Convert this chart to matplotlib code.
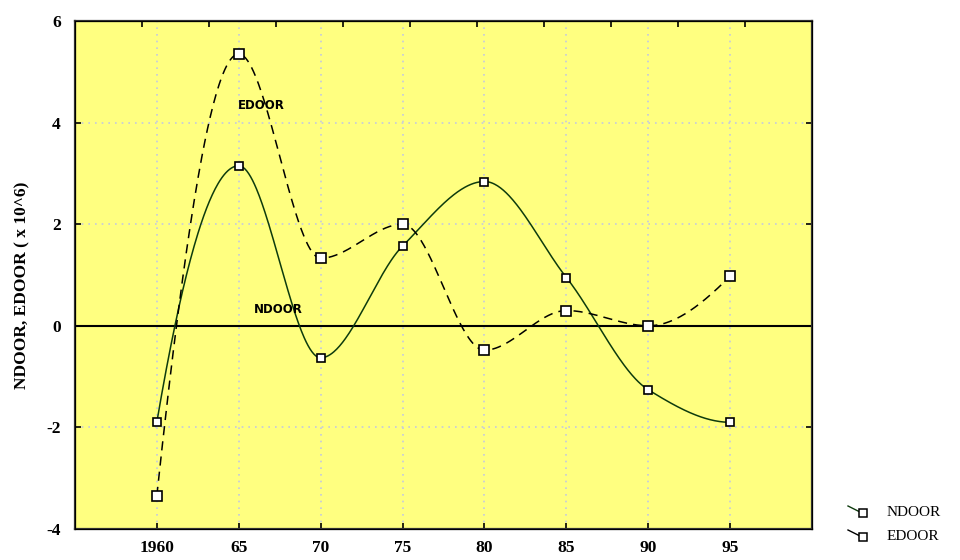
import numpy as np
import matplotlib
matplotlib.use("Agg")
import matplotlib.pyplot as plt

years = [1960, 1965, 1970, 1975, 1980, 1985, 1990, 1995]
year_labels = ["1960", "65", "70", "75", "80", "85", "90", "95"]
ndoor = [-1.90, 3.15, -0.63, 1.57, 2.84, 0.95, -1.26, -1.90]
edoor = [-3.35, 5.35, 1.33, 2.00, -0.48, 0.30, 0.00, 0.98]
y_ticks = [-4, -2, 0, 2, 4, 6]


def pchip(x, y, xs):
    # shape-preserving piecewise cubic (Fritsch-Carlson) through (x, y)
    x = np.asarray(x, float)
    y = np.asarray(y, float)
    h = np.diff(x)
    delta = np.diff(y) / h
    n = len(x)
    d = np.zeros(n)
    for k in range(1, n - 1):
        if delta[k - 1] * delta[k] > 0:
            w1 = 2 * h[k] + h[k - 1]
            w2 = h[k] + 2 * h[k - 1]
            d[k] = (w1 + w2) / (w1 / delta[k - 1] + w2 / delta[k])
    for k, (i0, i1) in ((0, (0, 1)), (n - 1, (n - 2, n - 3))):
        dk = ((2 * h[i0] + h[i1]) * delta[i0] - h[i0] * delta[i1]) / (h[i0] + h[i1])
        if np.sign(dk) != np.sign(delta[i0]):
            dk = 0.0
        elif np.sign(delta[i0]) != np.sign(delta[i1]) and abs(dk) > abs(3 * delta[i0]):
            dk = 3 * delta[i0]
        d[k] = dk
    idx = np.clip(np.searchsorted(x, xs) - 1, 0, n - 2)
    hi = h[idx]
    t = (xs - x[idx]) / hi
    h00 = 2 * t ** 3 - 3 * t ** 2 + 1
    h10 = t ** 3 - 2 * t ** 2 + t
    h01 = -2 * t ** 3 + 3 * t ** 2
    h11 = t ** 3 - t ** 2
    return h00 * y[idx] + h10 * hi * d[idx] + h01 * y[idx + 1] + h11 * hi * d[idx + 1]


fig = plt.figure(figsize=(9.6, 5.6), dpi=100)
ax = fig.add_axes([0.078, 0.0554, 0.768, 0.9071])
ax.set_facecolor("#ffff80")

xs = np.linspace(years[0], years[-1], 600)
ax.plot(xs, pchip(years, ndoor, xs), color="#0d3b0d", lw=1.1, zorder=3)
ax.plot(xs, pchip(years, edoor, xs), color="black", lw=1.1,
        dashes=(6, 4), zorder=3)
ax.plot(years, ndoor, ls="none", marker="s", ms=6, mfc="white", mec="black",
        mew=1.2, zorder=4)
ax.plot(years, edoor, ls="none", marker="s", ms=6.5, mfc="white", mec="black",
        mew=1.2, zorder=4)

ax.axhline(0, color="black", lw=1.5, zorder=2)

ax.set_xlim(1955, 2000)
ax.set_ylim(-4, 6)
ax.set_xticks(years)
ax.set_xticklabels(year_labels)
ax.set_yticks(y_ticks)
ax.set_yticklabels([str(t) for t in y_ticks])
ax.grid(True, color="#c4c8e0", ls=(0, (1, 3)), lw=1.2)
ax.tick_params(direction="in", length=4, width=1.2, right=True)
ax.tick_params(axis="x", pad=8)
ax.tick_params(axis="y", pad=10)
for lab in ax.get_xticklabels() + ax.get_yticklabels():
    lab.set_fontfamily("Liberation Serif")
    lab.set_fontweight("bold")
    lab.set_fontsize(12.5)
for sp in ax.spines.values():
    sp.set_color("#333333")
    sp.set_linewidth(1.6)

top = ax.twiny()
top.set_xlim(0, 11)
top.set_xticks(range(1, 11))
top.set_xticklabels([])
top.tick_params(direction="in", length=4, width=1.2)

ax.set_ylabel("NDOOR, EDOOR ( x 10^6)", family="Liberation Serif",
              fontweight="bold", fontsize=12.5)
ax.yaxis.set_label_coords(-0.06, 0.48)

ax.text(1964.95, 4.33, "EDOOR", fontsize=8.5, fontweight="bold", va="center")
ax.text(1965.9, 0.33, "NDOOR", fontsize=8.5, fontweight="bold", va="center")

# legend outside the frame, lower right
legend_items = [("NDOOR", "#0d3b0d", 513), ("EDOOR", "black", 537)]
for name, col, ypx in legend_items:
    yf = 1 - ypx / 560
    fig.add_artist(plt.Line2D([848 / 960, 862 / 960], [yf + 7 / 560, yf],
                              color=col, lw=1, transform=fig.transFigure))
    fig.add_artist(plt.Line2D([863 / 960], [yf], marker="s", ms=5.5,
                              mfc="white", mec="black", mew=1.1,
                              transform=fig.transFigure))
    fig.text(887 / 960, yf, name, family="Liberation Serif", fontsize=11,
             va="center")

fig.savefig("out.png", dpi=100)
